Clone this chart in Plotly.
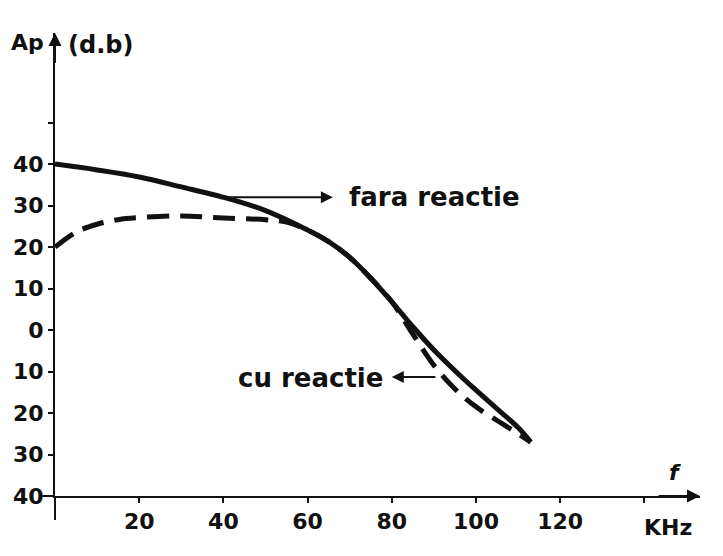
import plotly.graph_objects as go

# Frequency (kHz) and power gain Ap (dB)
freq_fara = [0, 10, 20, 30, 40, 50, 60, 65, 70, 75, 80, 85, 90, 95, 100, 105, 110, 113]
ap_fara = [40, 38.6, 36.9, 34.5, 32.0, 28.8, 24.1, 21.3, 17.5, 12.5, 6.8, 0.8, -4.8, -9.8, -14.5, -19.0, -23.5, -27.0]

freq_cu = [0, 5, 10, 15, 20, 30, 40, 50, 55, 60, 65, 70, 75, 80, 85, 90, 95, 100, 105, 110, 113]
ap_cu = [20, 23.6, 25.5, 26.6, 27.1, 27.5, 27.0, 26.6, 26.0, 24.1, 21.3, 17.5, 12.5, 6.8, -1.0, -8.5, -14.2, -18.5, -21.8, -25.0, -27.0]

x_ticks = [20, 40, 60, 80, 100, 120, 140]
x_labels = ["20", "40", "60", "80", "100", "120", ""]
y_ticks = [-40, -30, -20, -10, 0, 10, 20, 30, 40, 50]
y_labels = ["40", "30", "20", "10", "0", "10", "20", "30", "40", ""]

INK = "#111111"
FONT = "DejaVu Sans"

fig = go.Figure()
fig.add_trace(go.Scatter(x=freq_fara, y=ap_fara, mode="lines", line_shape="spline",
                         line=dict(color=INK, width=5), name="fara reactie"))
fig.add_trace(go.Scatter(x=freq_cu, y=ap_cu, mode="lines", line_shape="spline",
                         line=dict(color=INK, width=5, dash="22px,11px"), name="cu reactie"))

axis_common = dict(showgrid=False, zeroline=False, showline=True, linecolor=INK, linewidth=2,
                   ticks="outside", ticklen=5, tickwidth=2, tickcolor=INK,
                   tickfont=dict(family=FONT, size=22, color=INK, weight="bold"))
fig.update_xaxes(range=[0, 153.2], tickvals=x_ticks, ticktext=x_labels, **axis_common)
fig.update_yaxes(range=[-40, 71.6], tickvals=y_ticks, ticktext=y_labels, **axis_common)

ann = []
# axis arrows
ann.append(dict(x=153.2, y=-40, ax=143, ay=-40, xref="x", yref="y", axref="x", ayref="y",
                text="", showarrow=True, arrowhead=2, arrowsize=1.3, arrowwidth=2, arrowcolor=INK))
ann.append(dict(x=0, y=71.6, ax=0, ay=64, xref="x", yref="y", axref="x", ayref="y",
                text="", showarrow=True, arrowhead=2, arrowsize=1.3, arrowwidth=2, arrowcolor=INK))
# label arrows
ann.append(dict(x=66.0, y=32.0, ax=40.9, ay=32.0, xref="x", yref="y", axref="x", ayref="y",
                text="", showarrow=True, arrowhead=2, arrowsize=1.2, arrowwidth=2, arrowcolor=INK))
ann.append(dict(x=80.0, y=-11.3, ax=90.7, ay=-11.3, xref="x", yref="y", axref="x", ayref="y",
                text="", showarrow=True, arrowhead=2, arrowsize=1.2, arrowwidth=2, arrowcolor=INK))
# texts
txt = dict(family=FONT, size=26, color=INK, weight="bold")
ann.append(dict(x=69.4, y=32.0, xref="x", yref="y", text="fara reactie", showarrow=False,
                xanchor="left", yanchor="middle", font=txt))
ann.append(dict(x=78.3, y=-11.6, xref="x", yref="y", text="cu reactie", showarrow=False,
                xanchor="right", yanchor="middle", font=txt))
lab = dict(family=FONT, size=22, color=INK, weight="bold")
ann.append(dict(x=-0.043, y=0.98, xref="paper", yref="paper", text="Ap", showarrow=False,
                xanchor="center", yanchor="middle", font=lab))
ann.append(dict(x=0.07, y=0.974, xref="paper", yref="paper", text="(d.b)", showarrow=False,
                xanchor="center", yanchor="middle", font=dict(family=FONT, size=24, color=INK, weight="bold")))
ann.append(dict(x=0.95, y=-0.067, xref="paper", yref="paper", text="KHz", showarrow=False,
                xanchor="center", yanchor="middle", font=lab))
ann.append(dict(x=0.961, y=0.02, xref="paper", yref="paper", text="<i>f</i>", showarrow=False,
                xanchor="center", yanchor="bottom", font=lab))

shapes = [
    dict(type="line", xref="paper", yref="paper", x0=0, x1=0, y0=0, y1=-0.052,
         line=dict(color=INK, width=2)),
    dict(type="line", xref="paper", yref="paper", x0=-0.02, x1=0, y0=0, y1=0,
         line=dict(color=INK, width=2)),
]

fig.update_layout(width=723, height=556, margin=dict(l=55, r=23, t=33, b=60, pad=0),
                  plot_bgcolor="white", paper_bgcolor="white", showlegend=False,
                  annotations=ann, shapes=shapes)

fig.write_html("out.html")
